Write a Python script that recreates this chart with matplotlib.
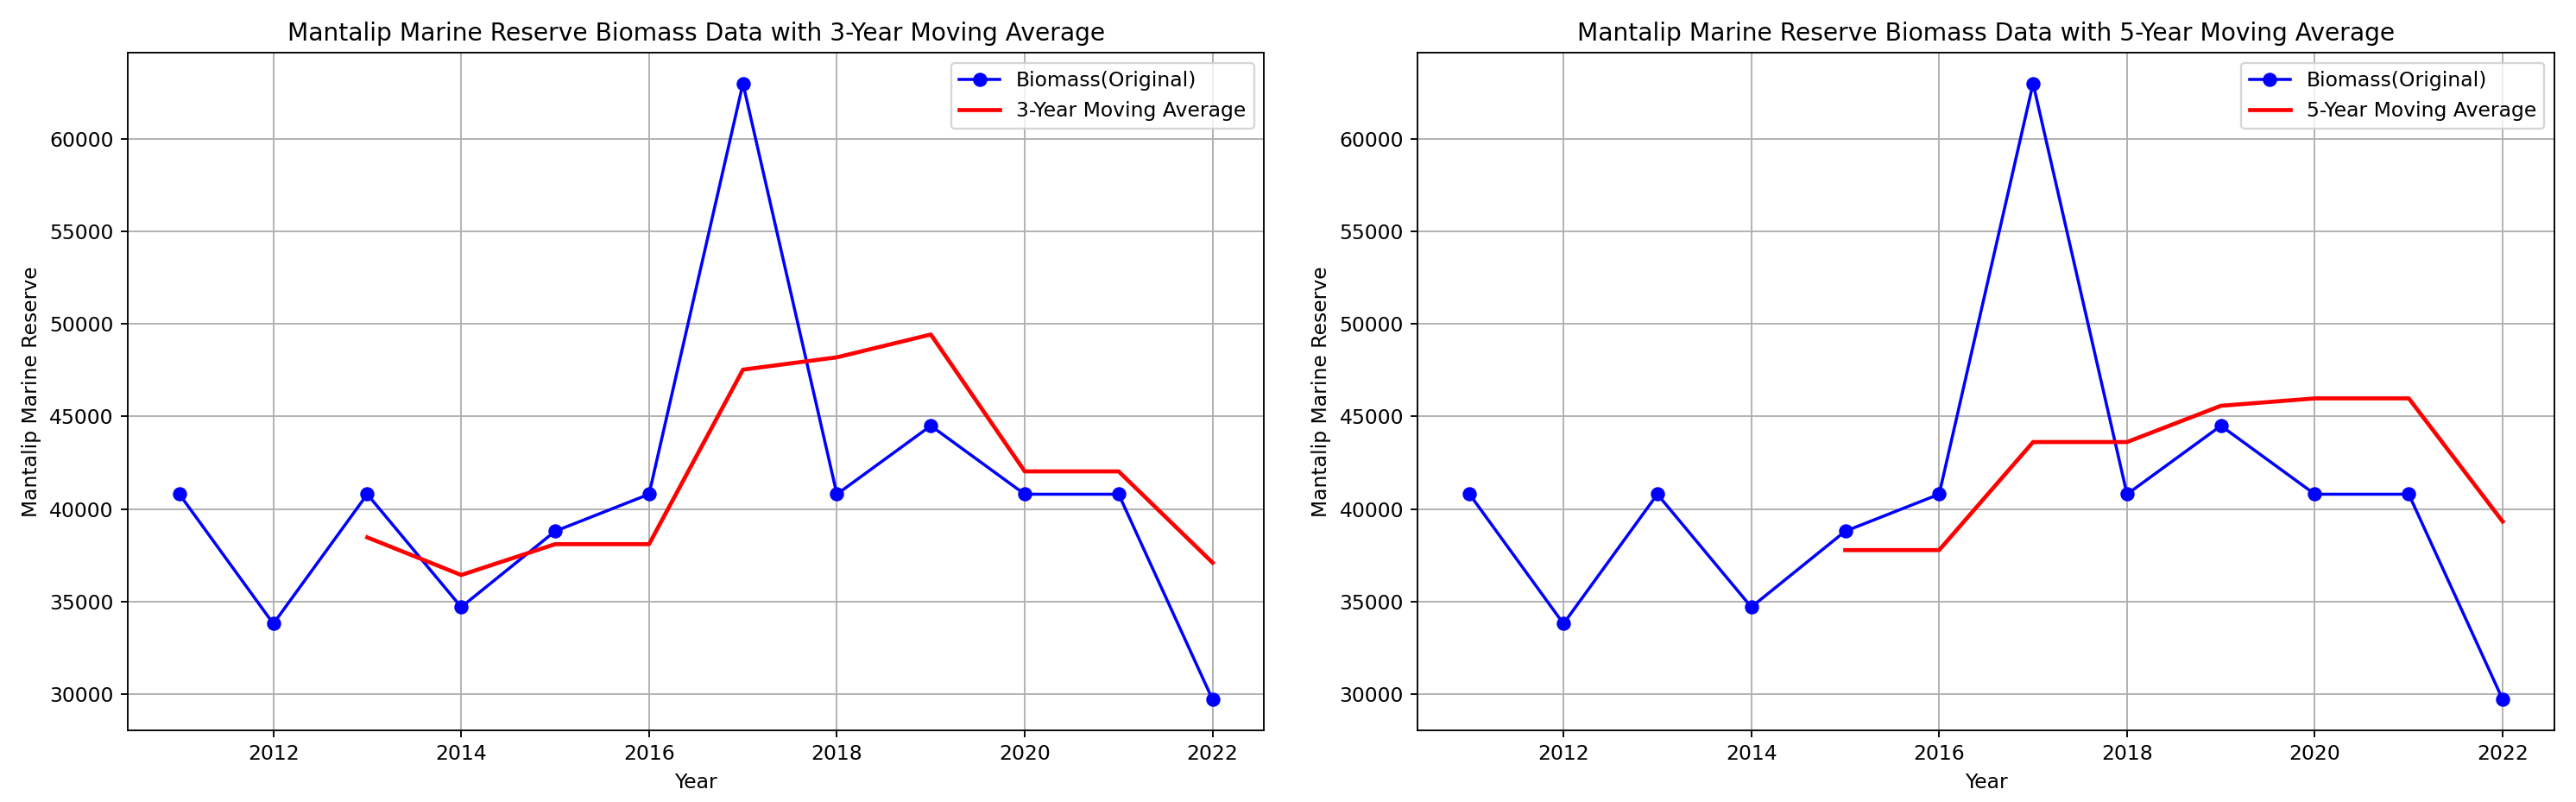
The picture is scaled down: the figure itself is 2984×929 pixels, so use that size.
import matplotlib
matplotlib.use("Agg")
import matplotlib.pyplot as plt

# ----------------------------
# Data
# ----------------------------
years = [2011, 2012, 2013, 2014, 2015, 2016, 2017, 2018, 2019, 2020, 2021, 2022]
biomass = [40800, 33800, 40800, 34700, 38800, 40800, 63000, 40800, 44500, 40800, 40800, 29700]

ma3_years = [2013, 2014, 2015, 2016, 2017, 2018, 2019, 2020, 2021, 2022]
ma3_values = [38467, 36433, 38100, 38100, 47533, 48200, 49433, 42033, 42033, 37100]

ma5_years = [2015, 2016, 2017, 2018, 2019, 2020, 2021, 2022]
ma5_values = [37780, 37780, 43620, 43620, 45580, 45980, 45980, 39320]

site = "Mantalip Marine Reserve"

dpi = 169
fig, axes = plt.subplots(1, 2, figsize=(2984 / dpi, 929 / dpi), dpi=dpi)

panels = [(3, ma3_years, ma3_values), (5, ma5_years, ma5_values)]
for ax, (win, ma_x, ma_y) in zip(axes, panels):
    ax.plot(years, biomass, marker="o", color="blue", label="Biomass(Original)")
    ax.plot(ma_x, ma_y, color="red", linewidth=2, label=f"{win}-Year Moving Average")
    ax.set_title(f"{site} Biomass Data with {win}-Year Moving Average")
    ax.set_xlabel("Year")
    ax.set_ylabel(site)
    ax.grid(True)
    ax.legend()

# layout matched to the reference axes edges
plt.subplots_adjust(left=0.0496, right=0.9916, top=0.9343, bottom=0.0893, wspace=0.1352)
plt.savefig("out.png", dpi=dpi)
